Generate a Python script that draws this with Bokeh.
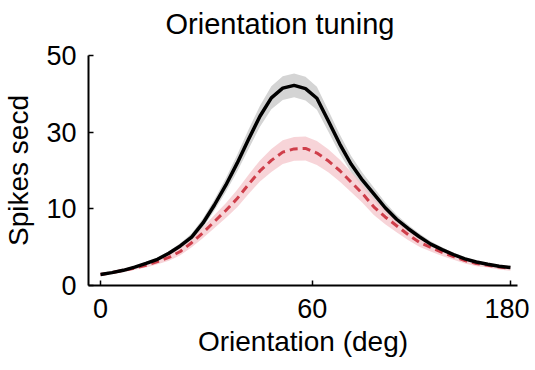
from bokeh.plotting import figure
from bokeh.embed import file_html
from bokeh.resources import INLINE
from bokeh.models import FixedTicker, Title

# --- data ---
orientation = [0, 5, 10, 15, 20, 25, 30, 35, 40, 45, 50, 55, 60, 65, 70, 75, 80, 85, 90,
               95, 100, 105, 110, 115, 120, 125, 130, 135, 140, 145, 150, 155, 160, 165, 170, 175, 180]
control_mean = [2.4, 2.8, 3.3, 4.0, 4.8, 5.7, 7.0, 8.6, 10.5, 13.6, 17.5, 21.8, 26.6, 31.8, 36.8, 40.8, 42.9, 43.5, 42.8,
                40.7, 35.8, 30.8, 26.4, 22.9, 19.9, 16.9, 14.4, 12.4, 10.6, 9.0, 7.8, 6.7, 5.8, 5.1, 4.6, 4.2, 3.9]
control_sem = [0.2, 0.2, 0.3, 0.3, 0.4, 0.4, 0.5, 0.6, 0.8, 1.0, 1.2, 1.5, 1.8, 2.1, 2.3, 2.5, 2.6, 2.6, 2.6,
               2.5, 2.3, 2.1, 1.8, 1.6, 1.4, 1.2, 1.0, 0.8, 0.7, 0.6, 0.5, 0.4, 0.4, 0.3, 0.3, 0.3, 0.3]
test_mean = [2.4, 2.8, 3.3, 3.8, 4.4, 5.2, 6.1, 7.4, 9.3, 11.5, 13.9, 16.3, 18.9, 22.0, 24.9, 27.2, 29.0, 29.7, 29.8,
             28.8, 27.1, 25.0, 22.5, 20.0, 17.1, 14.9, 13.0, 11.1, 9.4, 8.3, 7.2, 6.3, 5.4, 4.8, 4.4, 4.0, 3.7]
test_sem = [0.3, 0.3, 0.4, 0.4, 0.5, 0.6, 0.7, 0.8, 1.0, 1.2, 1.4, 1.6, 1.9, 2.1, 2.3, 2.5, 2.6, 2.6, 2.6,
            2.6, 2.5, 2.4, 2.2, 2.0, 1.8, 1.6, 1.4, 1.2, 1.0, 0.9, 0.8, 0.7, 0.6, 0.6, 0.5, 0.5, 0.5]

x_tick_pos = [0, 93, 180]
x_tick_labels = ["0", "60", "180"]
y_tick_pos = [0, 50 / 3, 100 / 3, 50]
y_tick_labels = ["0", "10", "30", "50"]
title_text = "Orientation tuning"

FONT = "Liberation Sans"

p = figure(frame_width=429, frame_height=230, output_backend="svg", toolbar_location=None,
           x_range=(-5.3, 183.1), y_range=(0, 50),
           min_border_left=85, min_border_right=12, min_border_top=55, min_border_bottom=82)

# thin blank spacer next to the frame, then the real title above it
spacer = Title(text=" ", text_font=FONT, text_font_size="6px", standoff=8)
p.add_layout(spacer, "above")
main_title = Title(text=title_text, text_font=FONT, text_font_size="29px", text_font_style="normal",
                   text_color="black", align="left", offset=77, standoff=0)
p.add_layout(main_title, "above")

p.grid.visible = False
p.outline_line_color = None
p.background_fill_color = "white"
p.border_fill_color = "white"

c_lo = [m - s for m, s in zip(control_mean, control_sem)]
c_hi = [m + s for m, s in zip(control_mean, control_sem)]
t_lo = [m - s for m, s in zip(test_mean, test_sem)]
t_hi = [m + s for m, s in zip(test_mean, test_sem)]

p.varea(x=orientation, y1=c_lo, y2=c_hi, fill_color="#d4d4d4", fill_alpha=1.0)
p.varea(x=orientation, y1=t_lo, y2=t_hi, fill_color="#f5c9ce", fill_alpha=0.8)
p.line(orientation, test_mean, line_color="#cf3e4a", line_width=3, line_dash="8 5", line_join="round")
p.line(orientation, control_mean, line_color="black", line_width=3.5, line_join="round")

p.xaxis.ticker = FixedTicker(ticks=x_tick_pos)
p.xaxis.major_label_overrides = {x_tick_pos[i]: x_tick_labels[i] for i in range(len(x_tick_pos))}
p.yaxis.ticker = FixedTicker(ticks=y_tick_pos)
p.yaxis.major_label_overrides = {y_tick_pos[i]: y_tick_labels[i] for i in range(len(y_tick_pos))}

p.xaxis.axis_label = "Orientation (deg)"
p.yaxis.axis_label = "Spikes secd"

for ax in (p.xaxis, p.yaxis):
    ax.axis_line_color = "black"
    ax.axis_line_width = 2
    ax.major_tick_line_color = "black"
    ax.major_tick_line_width = 1.5
    ax.major_tick_in = 5
    ax.major_tick_out = 0
    ax.minor_tick_line_color = None
    ax.major_label_text_font = FONT
    ax.major_label_text_font_size = "27px"
    ax.major_label_text_color = "black"
    ax.axis_label_text_font = FONT
    ax.axis_label_text_font_size = "28px"
    ax.axis_label_text_font_style = "normal"
    ax.axis_label_text_color = "black"

p.xaxis.major_label_standoff = 13
p.yaxis.major_label_standoff = 12
p.xaxis.axis_label_standoff = 5
p.yaxis.axis_label_standoff = 9

open("out.html", "w").write(file_html(p, INLINE))
